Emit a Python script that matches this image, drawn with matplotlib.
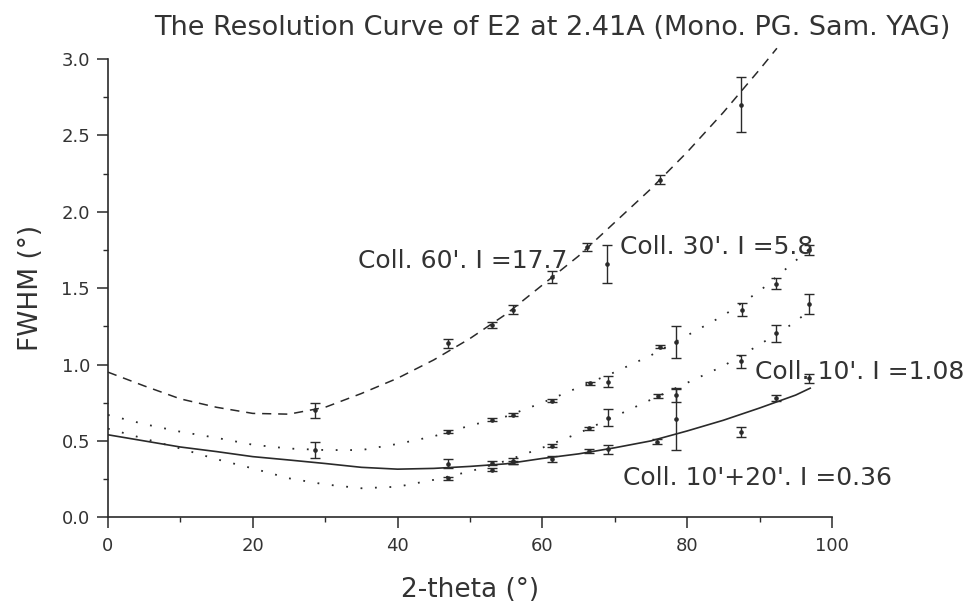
import matplotlib
matplotlib.use('Agg')
import matplotlib.pyplot as plt
from matplotlib.ticker import MultipleLocator, FormatStrFormatter

# measured FWHM points (2-theta, FWHM, error)
x60 = [28.6, 47.0, 53.0, 55.9, 61.3, 66.2, 68.9, 76.2, 87.4]
y60 = [0.70, 1.14, 1.26, 1.36, 1.575, 1.77, 1.66, 2.21, 2.70]
e60 = [0.05, 0.03, 0.02, 0.03, 0.04, 0.027, 0.125, 0.03, 0.18]

x30 = [28.6, 47.0, 53.0, 55.9, 61.3, 66.6, 69.1, 76.2, 78.5, 87.6, 92.3, 96.9]
y30 = [0.44, 0.56, 0.637, 0.67, 0.762, 0.877, 0.888, 1.117, 1.15, 1.36, 1.53, 1.75]
e30 = [0.05, 0.01, 0.01, 0.01, 0.01, 0.01, 0.035, 0.01, 0.105, 0.045, 0.033, 0.03]

x10 = [47.0, 53.0, 55.9, 61.3, 66.5, 69.1, 76.0, 78.5, 87.5, 92.3, 96.9]
y10 = [0.255, 0.31, 0.36, 0.467, 0.583, 0.652, 0.795, 0.80, 1.02, 1.205, 1.397]
e10 = [0.01, 0.01, 0.01, 0.01, 0.01, 0.055, 0.015, 0.045, 0.045, 0.055, 0.065]

x1020 = [47.0, 53.0, 55.9, 61.3, 66.5, 69.1, 75.9, 78.5, 87.5, 92.3, 96.9]
y1020 = [0.35, 0.355, 0.37, 0.38, 0.434, 0.445, 0.495, 0.642, 0.561, 0.779, 0.91]
e1020 = [0.03, 0.015, 0.02, 0.02, 0.01, 0.03, 0.015, 0.20, 0.033, 0.02, 0.03]

# fitted resolution curves
cx = [0, 5, 10, 15, 20, 25, 30, 35, 40, 45, 50, 55, 60, 65, 70, 75, 80, 85, 90, 95, 97]
c60 = [0.95, 0.86, 0.775, 0.72, 0.68, 0.675, 0.72, 0.81, 0.91, 1.03, 1.17, 1.33, 1.52,
       1.71, 1.93, 2.15, 2.39, 2.65, 2.93]
c60_end = (92.4, 3.07)
c30 = [0.67, 0.61, 0.56, 0.52, 0.475, 0.45, 0.44, 0.44, 0.48, 0.53, 0.60, 0.66, 0.75,
       0.85, 0.95, 1.06, 1.19, 1.32, 1.48, 1.68, 1.76]
c10 = [0.58, 0.515, 0.45, 0.38, 0.32, 0.255, 0.215, 0.19, 0.20, 0.245, 0.30, 0.37, 0.455,
       0.55, 0.66, 0.77, 0.88, 0.99, 1.13, 1.28, 1.36]
c1020 = [0.54, 0.50, 0.46, 0.43, 0.397, 0.375, 0.352, 0.327, 0.315, 0.32, 0.333, 0.35, 0.385,
         0.415, 0.455, 0.50, 0.565, 0.635, 0.715, 0.80, 0.845]

ink = '#2a2a2a'
txt = '#333333'
plt.rcParams['font.family'] = ['DejaVu Sans']

fig = plt.figure(figsize=(9.77, 6.09), dpi=100)
ax = fig.add_axes([0.1105, 0.1506, 0.741, 0.7526])

# curves
ax.plot(cx[:len(c60)] + [c60_end[0]], c60 + [c60_end[1]], color=ink, lw=1.1,
        dashes=(6, 4.5), clip_on=False)
ax.plot(cx, c30, color=ink, lw=1.3, ls=(0, (1, 7)))
ax.plot(cx, c10, color=ink, lw=1.3, ls=(0, (1, 7)))
ax.plot(cx, c1020, color=ink, lw=1.2)

# data points
for xs, ys, es in [(x60, y60, e60), (x30, y30, e30), (x10, y10, e10), (x1020, y1020, e1020)]:
    ax.errorbar(xs, ys, yerr=es, fmt='o', ms=2.3, color=ink, ecolor=ink,
                elinewidth=1.0, capsize=3.8, capthick=1.0)

ax.set_xlim(0, 100)
ax.set_ylim(0, 3.0)
ax.xaxis.set_major_locator(MultipleLocator(20))
ax.xaxis.set_minor_locator(MultipleLocator(10))
ax.yaxis.set_major_locator(MultipleLocator(0.5))
ax.yaxis.set_minor_locator(MultipleLocator(0.25))
ax.yaxis.set_major_formatter(FormatStrFormatter('%.1f'))

for s in ['top', 'right']:
    ax.spines[s].set_visible(False)
for s in ['left', 'bottom']:
    ax.spines[s].set_color(ink)
    ax.spines[s].set_linewidth(1.2)

ax.tick_params(which='major', direction='out', length=8, width=1.1, color=ink,
               labelsize=13, labelcolor=txt)
ax.tick_params(which='minor', direction='out', length=3.5, width=1.0, color=ink)
ax.tick_params(axis='x', which='major', pad=6)
ax.tick_params(axis='y', which='major', pad=5)

ax.set_xlabel('2-theta (°)', fontsize=19, color=txt, labelpad=16)
ax.set_ylabel('FWHM (°)', fontsize=19, color=txt, labelpad=12)

fig.text(0.565, 0.954, 'The Resolution Curve of E2 at 2.41A (Mono. PG. Sam. YAG)',
         ha='center', va='center', fontsize=19.5, color=txt)

lab = dict(fontsize=18, color=txt, va='center', ha='left', clip_on=False)
ax.text(34.5, 1.678, "Coll. 60'. I =17.7", **lab)
ax.text(70.7, 1.77, "Coll. 30'. I =5.8", **lab)
ax.text(89.4, 0.952, "Coll. 10'. I =1.08", **lab)
ax.text(71.1, 0.258, "Coll. 10'+20'. I =0.36", **lab)

fig.savefig('out.png', dpi=100, facecolor='white')
